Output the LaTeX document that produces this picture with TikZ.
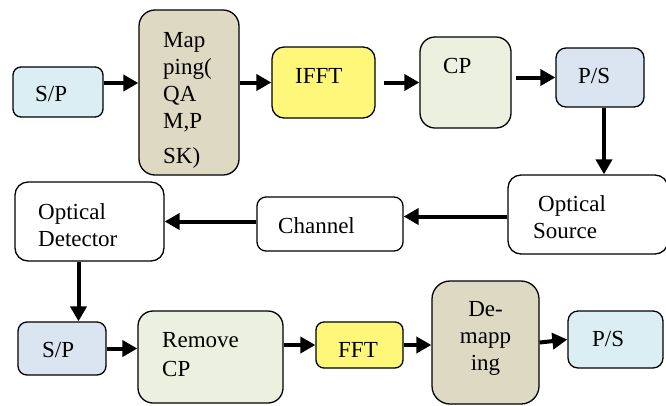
\documentclass[tikz,border=0pt]{standalone}
\usepackage{fontspec}
\setmainfont{Liberation Serif}
\usetikzlibrary{arrows.meta, positioning, calc}
\definecolor{aquaL}{HTML}{DAEEF3}
\definecolor{blueL}{HTML}{DBE5F1}
\definecolor{tanD}{HTML}{DDD9C3}
\definecolor{oliveL}{HTML}{EBF1DE}
\definecolor{yelL}{HTML}{FFF77A}

\begin{document}
\begin{tikzpicture}[
    x=1pt, y=-1pt,
    blk/.style={draw, line width=1.3pt, rounded corners=#1, inner sep=0pt},
    blk/.default=9pt,
    txt/.style={anchor=base west, inner sep=0pt, align=left, font=\fontsize{23}{27}\selectfont},
    arr/.style={line width=4pt, -{Triangle[length=15pt, width=16pt]}}
]
    \useasboundingbox (0,0) rectangle (666,405);

    % Transmitter (multi-line texts sit on the baseline of their last line)
    \node[blk=8pt, fill=aquaL, minimum width=90pt, minimum height=50pt] (sp1) at (58,92) {};
    \node[txt] (sp1-t) at (35,101) {S/P};

    \node[blk=16pt, fill=tanD, minimum width=100pt, minimum height=165pt] (map) at (189,92.5) {};
    \node[txt] (map-t) at (163,163) {Map\\ping(\\QA\\M,P\\[8pt]SK)};

    \node[blk=12pt, fill=yelL, minimum width=103pt, minimum height=71pt] (ifft) at (323.5,82.5) {};
    \node[txt] (ifft-t) at (295,83) {IFFT};

    \node[blk=15pt, fill=oliveL, minimum width=91pt, minimum height=91pt] (cp) at (465.5,82.5) {};
    \node[txt] (cp-t) at (443,73) {CP};

    \node[blk=10pt, fill=blueL, minimum width=88pt, minimum height=59pt] (ps1) at (600,77.5) {};
    \node[txt] (ps1-t) at (578,83) {P/S};

    % Optical link
    \node[blk=13pt, fill=white, minimum width=160pt, minimum height=79pt] (src) at (588,214.5) {};
    \node[txt] (src-t) at (533,238) {\hspace*{5pt}Optical\\Source};

    \node[blk=9pt, fill=white, minimum width=146pt, minimum height=54pt] (chan) at (330,224) {};
    \node[txt] (chan-t) at (278,233) {Channel};

    \node[blk=13pt, fill=white, minimum width=149pt, minimum height=79pt] (det) at (89.5,221.5) {};
    \node[txt] (det-t) at (38,246) {Optical\\Detector};

    % Receiver
    \node[blk=9pt, fill=blueL, minimum width=88pt, minimum height=53pt] (sp2) at (62,348.5) {};
    \node[txt] (sp2-t) at (42,357) {S/P};

    \node[blk=15pt, fill=oliveL, minimum width=145pt, minimum height=92pt] (rcp) at (210.5,357) {};
    \node[txt] (rcp-t) at (162,376) {Remove\\[2pt]CP};

    \node[blk=8pt, fill=yelL, minimum width=87pt, minimum height=46pt] (fft) at (359.5,345) {};
    \node[txt] (fft-t) at (338,357) {FFT};

    \node[blk=18pt, fill=tanD, minimum width=107pt, minimum height=123pt] (dem) at (485.5,342.5) {};
    \node[txt, anchor=base, align=center] (dem-t) at (485.5,370) {De-\\mapp\\ing};

    \node[blk=10pt, fill=aquaL, minimum width=95pt, minimum height=57pt] (ps2) at (615.5,339.5) {};
    \node[txt] (ps2-t) at (592,346) {P/S};

    % Connectors
    \draw[arr] ([yshift=9pt]sp1.east) -- ([yshift=9pt]sp1.east -| map.west);
    \draw[arr] (map.east |- ifft.west) -- (ifft.west);
    \draw[arr] ([xshift=8pt]ifft.east) -- (cp.west);
    \draw[arr] ([xshift=4pt]cp.east |- ps1.west) -- (ps1.west);
    \draw[arr] ([xshift=4pt]ps1.south) -- ([xshift=4pt]ps1.south |- src.north);
    \draw[arr] ([yshift=-2pt]src.west) -- ([yshift=-2pt]src.west -| chan.east);
    \draw[arr] (det.east -| chan.west) -- (det.east);
    \draw[arr] ([xshift=-11pt]det.south) -- ([xshift=-11pt]det.south |- sp2.north);
    \draw[arr] (sp2.east) -- (sp2.east -| rcp.west);
    \draw[arr] (rcp.east |- fft.west) -- (fft.west);
    \draw[arr] (fft.east) -- (fft.east -| dem.west);
    \draw[arr] (dem.east) -- (ps2.west);
\end{tikzpicture}
\end{document}
